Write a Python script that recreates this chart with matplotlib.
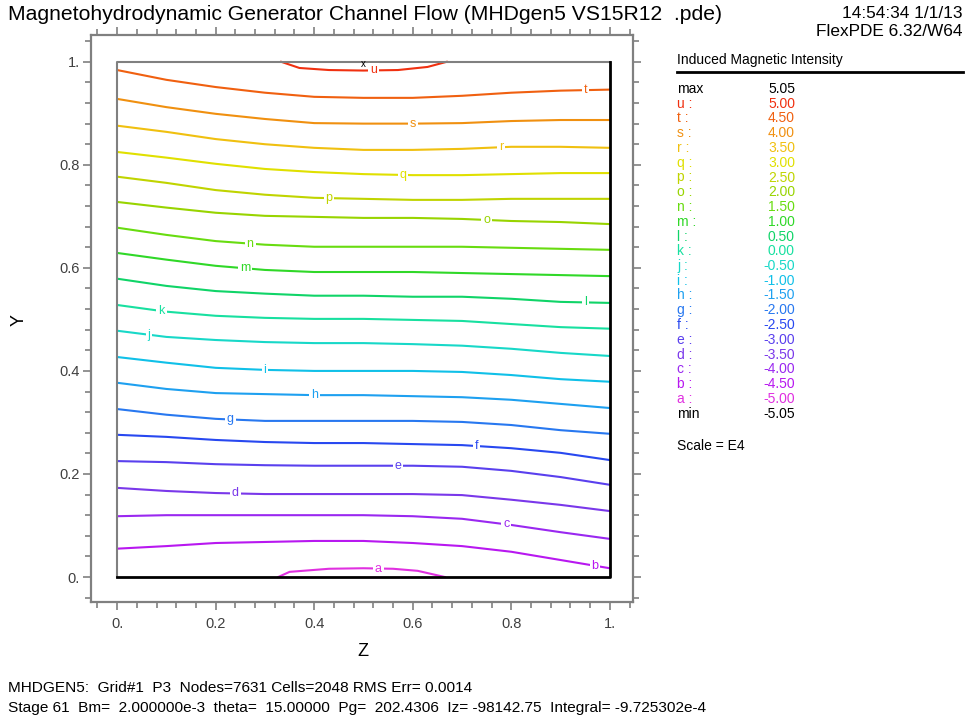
import numpy as np
import matplotlib
matplotlib.use("Agg")
import matplotlib.pyplot as plt
from matplotlib.ticker import MultipleLocator, FuncFormatter

plt.rcParams['font.family'] = ['Liberation Sans', 'DejaVu Sans']

# ---------------- data ----------------
# z samples for the full-width contour lines
z = [0.0, 0.1, 0.2, 0.3, 0.4, 0.5, 0.6, 0.7, 0.8, 0.9, 1.0]

# contour letters and levels (x 1e4)
letters = ['a', 'b', 'c', 'd', 'e', 'f', 'g', 'h', 'i', 'j', 'k',
           'l', 'm', 'n', 'o', 'p', 'q', 'r', 's', 't', 'u']
levels = [-5.0, -4.5, -4.0, -3.5, -3.0, -2.5, -2.0, -1.5, -1.0, -0.5, 0.0,
          0.5, 1.0, 1.5, 2.0, 2.5, 3.0, 3.5, 4.0, 4.5, 5.0]
colors = ['#e030e0', '#b818f0', '#9a28f0', '#7a38ea', '#5a40ee', '#2848f0',
          '#2878f0', '#1ea0f0', '#10c0e8', '#18d8c8', '#18e0a0', '#10d468',
          '#30d828', '#68dc10', '#98d400', '#c0d400', '#e0e000', '#f0c010',
          '#f09010', '#f06010', '#f03010']
vmax, vmin = 5.05, -5.05

# y of each full-width line at the z samples
y_b = [0.055, 0.060, 0.066, 0.068, 0.070, 0.070, 0.066, 0.060, 0.049, 0.033, 0.017]
y_c = [0.118, 0.120, 0.120, 0.120, 0.120, 0.120, 0.118, 0.113, 0.101, 0.087, 0.074]
y_d = [0.173, 0.167, 0.163, 0.161, 0.161, 0.161, 0.161, 0.159, 0.150, 0.140, 0.128]
y_e = [0.225, 0.223, 0.219, 0.217, 0.216, 0.216, 0.216, 0.214, 0.206, 0.194, 0.179]
y_f = [0.276, 0.272, 0.266, 0.262, 0.260, 0.260, 0.258, 0.256, 0.250, 0.241, 0.227]
y_g = [0.326, 0.315, 0.307, 0.303, 0.303, 0.303, 0.303, 0.301, 0.295, 0.285, 0.278]
y_h = [0.377, 0.365, 0.357, 0.355, 0.353, 0.353, 0.351, 0.349, 0.344, 0.336, 0.328]
y_i = [0.427, 0.416, 0.406, 0.402, 0.400, 0.400, 0.400, 0.398, 0.392, 0.384, 0.379]
y_j = [0.478, 0.466, 0.460, 0.456, 0.454, 0.454, 0.452, 0.449, 0.443, 0.435, 0.429]
y_k = [0.528, 0.515, 0.507, 0.503, 0.501, 0.501, 0.499, 0.497, 0.491, 0.485, 0.482]
y_l = [0.579, 0.565, 0.555, 0.550, 0.546, 0.546, 0.544, 0.544, 0.540, 0.534, 0.532]
y_m = [0.629, 0.616, 0.604, 0.596, 0.592, 0.592, 0.592, 0.590, 0.588, 0.586, 0.584]
y_n = [0.678, 0.664, 0.652, 0.645, 0.641, 0.641, 0.641, 0.641, 0.639, 0.637, 0.635]
y_o = [0.728, 0.717, 0.707, 0.701, 0.699, 0.697, 0.697, 0.695, 0.691, 0.689, 0.685]
y_p = [0.777, 0.765, 0.751, 0.742, 0.736, 0.734, 0.732, 0.732, 0.734, 0.734, 0.734]
y_q = [0.825, 0.814, 0.802, 0.792, 0.786, 0.782, 0.780, 0.780, 0.782, 0.784, 0.784]
y_r = [0.876, 0.864, 0.850, 0.840, 0.833, 0.829, 0.829, 0.831, 0.835, 0.835, 0.833]
y_s = [0.928, 0.912, 0.899, 0.889, 0.881, 0.880, 0.880, 0.881, 0.885, 0.887, 0.887]
y_t = [0.984, 0.965, 0.951, 0.940, 0.932, 0.930, 0.930, 0.934, 0.940, 0.944, 0.946]

# closed contours touching the walls: a at the bottom, u at the top
z_a = [0.327, 0.35, 0.43, 0.50, 0.56, 0.61, 0.665]
y_a = [0.000, 0.010, 0.016, 0.017, 0.016, 0.012, 0.000]
z_u = [0.333, 0.37, 0.43, 0.50, 0.57, 0.63, 0.669]
y_u = [1.000, 0.988, 0.984, 0.983, 0.984, 0.990, 1.000]

lines_y = [y_a, y_b, y_c, y_d, y_e, y_f, y_g, y_h, y_i, y_j, y_k,
           y_l, y_m, y_n, y_o, y_p, y_q, y_r, y_s, y_t, y_u]

# where the letter sits along each line (z)
label_z = [0.53, 0.97, 0.79, 0.24, 0.57, 0.73, 0.23, 0.40, 0.30, 0.065, 0.09,
           0.95, 0.26, 0.27, 0.75, 0.43, 0.58, 0.78, 0.60, 0.95, 0.52]

# ---------------- figure ----------------
fig = plt.figure(figsize=(9.69, 7.25), dpi=100)
W, H = 969, 725
ax = fig.add_axes([91 / W, 1 - 602 / H, 542 / W, 567 / H])
ax.set_xlim(-0.053, 1.047)
ax.set_ylim(-0.0485, 1.052)

for sp in ax.spines.values():
    sp.set_color('#808080')
    sp.set_linewidth(1.6)

ax.xaxis.set_major_locator(MultipleLocator(0.2))
ax.xaxis.set_minor_locator(MultipleLocator(0.04))
ax.yaxis.set_major_locator(MultipleLocator(0.2))
ax.yaxis.set_minor_locator(MultipleLocator(0.04))
ax.tick_params(which='both', direction='out', color='#808080', width=1.2,
               top=True, right=True, labelcolor='#404040', labelsize=10.5)
ax.tick_params(which='major', length=6)
ax.tick_params(which='minor', length=4)
ax.tick_params(axis='y', which='major', pad=2)
ax.tick_params(axis='x', which='major', pad=5)
fmt = FuncFormatter(lambda v, p: '0.' if abs(v) < 1e-9 else ('1.' if abs(v - 1) < 1e-9 else '%.1f' % v))
ax.xaxis.set_major_formatter(fmt)
ax.yaxis.set_major_formatter(fmt)

# axis titles
fig.text(19 / W, 1 - 320 / H, 'Y', fontsize=13, rotation=90, ha='center', va='center')
fig.text(363 / W, 1 - 652 / H, 'Z', fontsize=13, ha='center', va='center')

# inner domain box
ax.plot([0, 0, 1], [0, 1, 1], color='#808080', lw=1.5, zorder=3)
ax.plot([0, 1, 1], [0, 0, 1], color='black', lw=2, zorder=3)

# contour lines
for i in range(len(letters)):
    if letters[i] == 'a':
        zz, yy = z_a, y_a
    elif letters[i] == 'u':
        zz, yy = z_u, y_u
    else:
        zz, yy = z, lines_y[i]
    ax.plot(zz, yy, color=colors[i], lw=1.5, zorder=2)
    ly = np.interp(label_z[i], zz, yy)
    ax.text(label_z[i], ly, letters[i], color=colors[i], fontsize=9,
            ha='center', va='center', zorder=4,
            bbox=dict(boxstyle='square,pad=0.15', fc='white', ec='none'))

# max marker
ax.text(0.50, 0.995, 'x', fontsize=7, ha='center', va='center', color='black', zorder=5)

# ---------------- texts ----------------
fig.text(8 / W, 1 - 15 / H, 'Magnetohydrodynamic Generator Channel Flow (MHDgen5 VS15R12  .pde)',
         fontsize=15.2, va='center', ha='left')
fig.text(963 / W, 1 - 14 / H, '14:54:34 1/1/13', fontsize=12.4, ha='right', va='center')
fig.text(963 / W, 1 - 31 / H, 'FlexPDE 6.32/W64', fontsize=12.4, ha='right', va='center')

# legend
fig.text(677 / W, 1 - 60 / H, 'Induced Magnetic Intensity', fontsize=10, va='center')
fig.add_artist(plt.Line2D([677 / W, 963 / W], [1 - 72 / H, 1 - 72 / H], color='black', lw=2))
row0, dy = 89, 14.75
fig.text(677 / W, 1 - row0 / H, 'max', fontsize=10, va='center')
fig.text(795 / W, 1 - row0 / H, '%.2f' % vmax, fontsize=10, va='center', ha='right')
for n, i in enumerate(range(len(letters) - 1, -1, -1)):
    yy = 1 - (row0 + (n + 1) * dy) / H
    fig.text(677 / W, yy, letters[i] + ' :', color=colors[i], fontsize=10, va='center')
    fig.text(795 / W, yy, '%.2f' % levels[i], color=colors[i], fontsize=10, va='center', ha='right')
yy = 1 - (row0 + (len(letters) + 1) * dy) / H
fig.text(677 / W, yy, 'min', fontsize=10, va='center')
fig.text(795 / W, yy, '%.2f' % vmin, fontsize=10, va='center', ha='right')
fig.text(677 / W, 1 - 446 / H, 'Scale = E4', fontsize=10, va='center')

# footer
fig.text(8 / W, 1 - 688 / H, 'MHDGEN5:  Grid#1  P3  Nodes=7631 Cells=2048 RMS Err= 0.0014',
         fontsize=11.1, va='center')
fig.text(8 / W, 1 - 708 / H,
         'Stage 61  Bm=  2.000000e-3  theta=  15.00000  Pg=  202.4306  Iz= -98142.75  Integral= -9.725302e-4',
         fontsize=11.1, va='center')

fig.savefig('out.png', dpi=100)
